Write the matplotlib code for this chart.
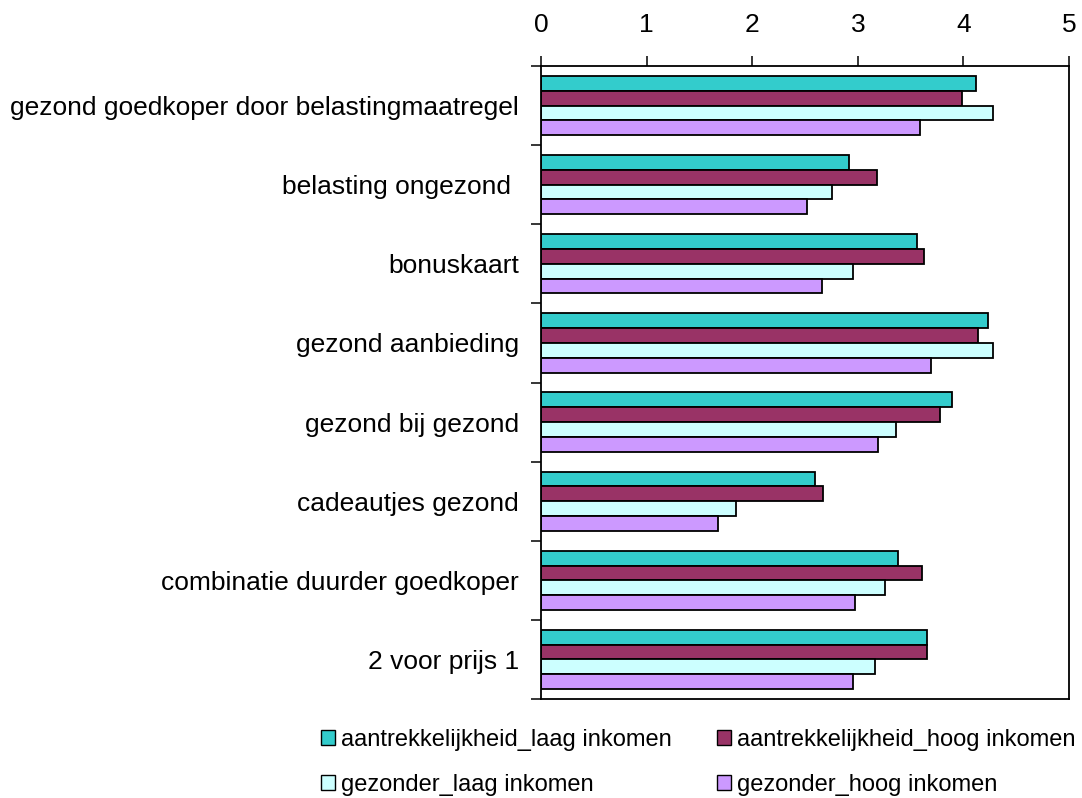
import matplotlib
matplotlib.use("Agg")
import matplotlib.pyplot as plt
import numpy as np
from matplotlib.patches import Patch

plt.rcParams['font.family'] = ['Liberation Sans', 'DejaVu Sans']

categories = [
    "gezond goedkoper door belastingmaatregel",
    "belasting ongezond ",
    "bonuskaart",
    "gezond aanbieding",
    "gezond bij gezond",
    "cadeautjes gezond",
    "combinatie duurder goedkoper",
    "2 voor prijs 1",
]
series_names = [
    "aantrekkelijkheid_laag inkomen",
    "aantrekkelijkheid_hoog inkomen",
    "gezonder_laag inkomen",
    "gezonder_hoog inkomen",
]
aantr_laag = [4.12, 2.92, 3.56, 4.23, 3.89, 2.59, 3.38, 3.66]
aantr_hoog = [3.99, 3.18, 3.63, 4.14, 3.78, 2.67, 3.61, 3.66]
gez_laag = [4.28, 2.76, 2.95, 4.28, 3.36, 1.85, 3.26, 3.16]
gez_hoog = [3.59, 2.52, 2.66, 3.69, 3.19, 1.68, 2.97, 2.95]
colors = ["#33CCCC", "#993366", "#CCFFFF", "#CC99FF"]
xticks = [0, 1, 2, 3, 4, 5]

series = [aantr_laag, aantr_hoog, gez_laag, gez_hoog]

fig = plt.figure(figsize=(10.82, 7.98), dpi=100)
ax = fig.add_axes([541/1082, 1-699/798, (1069-541)/1082, (699-66)/798])

n = len(categories)
y = np.arange(n)
bh = 0.187
offsets = [-1.5*bh, -0.5*bh, 0.5*bh, 1.5*bh]
for vals, off, c in zip(series, offsets, colors):
    ax.barh(y + off, vals, height=bh, color=c, edgecolor="black", linewidth=1.3)

ax.set_xlim(0, 5)
ax.set_ylim(n - 0.5, -0.5)
ax.set_xticks(xticks)
ax.set_xticklabels([str(t) for t in xticks])
ax.xaxis.tick_top()
ax.tick_params(axis='x', which='major', direction='out', length=7, width=1.1,
               pad=14, labelsize=19, top=True, bottom=False)

ax.set_yticks(np.arange(-0.5, n, 1.0))
ax.set_yticklabels([])
ax.set_yticks(y, minor=True)
ax.set_yticklabels(categories, minor=True)
ax.tick_params(axis='y', which='major', direction='out', length=7, width=1.1)
ax.tick_params(axis='y', which='minor', length=0, pad=16, labelsize=19)

for s in ax.spines.values():
    s.set_linewidth(1.3)
    s.set_color("black")

handles = [Patch(facecolor=c, edgecolor="black", linewidth=1.0) for c in colors]
order = [0, 2, 1, 3]
leg = fig.legend([handles[i] for i in order], [series_names[i] for i in order],
                 ncol=2, loc='center', bbox_to_anchor=(698/1082, 1-762.5/798),
                 frameon=False, fontsize=17, handlelength=0.6, handleheight=0.6,
                 handletextpad=0.25, columnspacing=1.9, labelspacing=1.0,
                 borderaxespad=0, borderpad=0)

fig.savefig("out.png", dpi=100)
